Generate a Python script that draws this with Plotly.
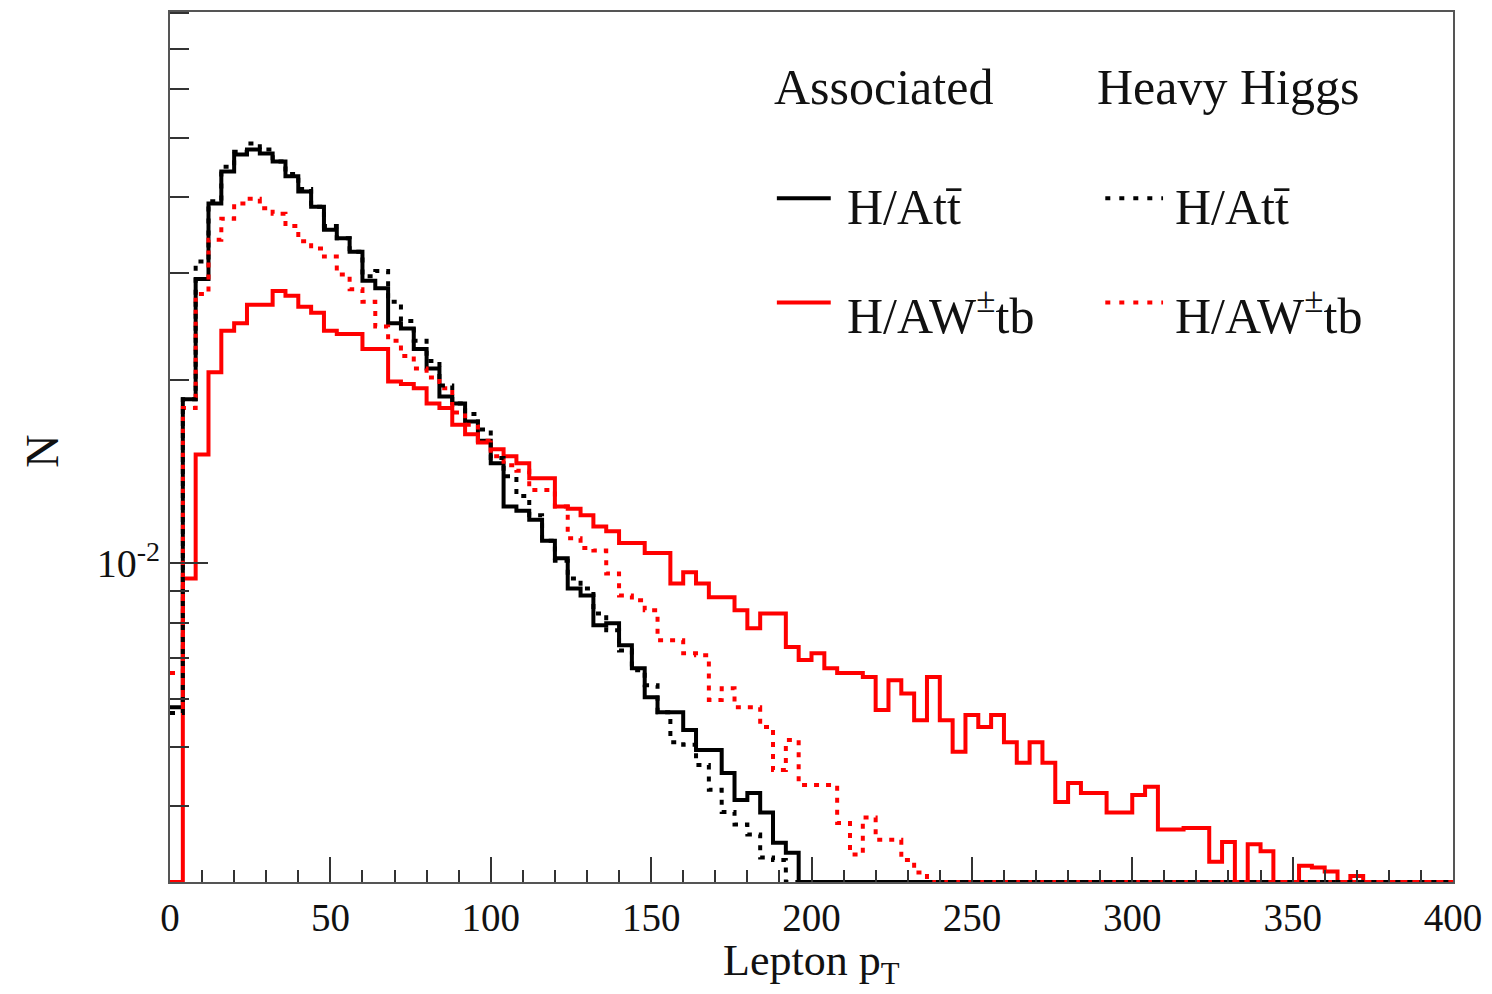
import numpy as np
import plotly.graph_objects as go

# ---------------- data (normalised histogram contents, 4 GeV bins, 0-400) -----------
bin_edges = list(range(0, 404, 4))

assoc_htt = [
    0.00581, 0.0186, 0.0293, 0.0390, 0.0440, 0.0469, 0.0478, 0.0471, 0.0457, 0.0432,
    0.0408, 0.0385, 0.0353, 0.0342, 0.0325, 0.0291, 0.0283, 0.0248, 0.0243, 0.0225,
    0.0209, 0.0188, 0.0183, 0.0171, 0.0159, 0.0146, 0.0124, 0.0122, 0.0118, 0.0109,
    0.0102, 0.00910, 0.00886, 0.00792, 0.00798, 0.00734, 0.00673, 0.00603, 0.00570, 0.00570,
    0.00533, 0.00494, 0.00494, 0.00453, 0.00409, 0.00420, 0.00390, 0.00348, 0.00335, 0,
    0, 0, 0, 0, 0, 0, 0, 0, 0, 0,
    0, 0, 0, 0, 0, 0, 0, 0, 0, 0,
    0, 0, 0, 0, 0, 0, 0, 0, 0, 0,
    0, 0, 0, 0, 0, 0, 0, 0, 0, 0,
    0, 0, 0, 0, 0, 0, 0, 0, 0, 0,
]

heavy_htt = [
    0.00568, 0.0186, 0.0313, 0.0393, 0.0448, 0.0474, 0.0489, 0.0478, 0.0457, 0.0436,
    0.0412, 0.0385, 0.0358, 0.0342, 0.0325, 0.0296, 0.0302, 0.0269, 0.0250, 0.0232,
    0.0215, 0.0196, 0.0183, 0.0176, 0.0166, 0.0149, 0.0139, 0.0129, 0.0120, 0.0109,
    0.0101, 0.00945, 0.00910, 0.00828, 0.00777, 0.00720, 0.00668, 0.00631, 0.00570, 0.00509,
    0.00504, 0.00467, 0.00425, 0.00391, 0.00373, 0.00359, 0.00329, 0.00326, 0, 0,
    0, 0, 0, 0, 0, 0, 0, 0, 0, 0,
    0, 0, 0, 0, 0, 0, 0, 0, 0, 0,
    0, 0, 0, 0, 0, 0, 0, 0, 0, 0,
    0, 0, 0, 0, 0, 0, 0, 0, 0, 0,
    0, 0, 0, 0, 0, 0, 0, 0, 0, 0,
]

assoc_hwtb = [
    0, 0.00945, 0.0151, 0.0206, 0.0241, 0.0248, 0.0266, 0.0266, 0.0280, 0.0275,
    0.0264, 0.0258, 0.0241, 0.0238, 0.0238, 0.0225, 0.0225, 0.0199, 0.0197, 0.0194,
    0.0183, 0.0180, 0.0169, 0.0163, 0.0158, 0.0154, 0.0150, 0.0146, 0.0138, 0.0138,
    0.0124, 0.0123, 0.0120, 0.0115, 0.0113, 0.0108, 0.0108, 0.0104, 0.0104, 0.00927,
    0.00967, 0.00927, 0.00880, 0.00880, 0.00838, 0.00783, 0.00828, 0.00828, 0.00729, 0.00694,
    0.00712, 0.00673, 0.00661, 0.00661, 0.00651, 0.00575, 0.00643, 0.00612, 0.00553, 0.00651,
    0.00553, 0.00491, 0.00564, 0.00539, 0.00564, 0.00509, 0.00471, 0.00509, 0.00471, 0.00406,
    0.00436, 0.00420, 0.00420, 0.00390, 0.00390, 0.00417, 0.00430, 0.00366, 0.00366, 0.00368,
    0.00368, 0.00324, 0.00349, 0, 0.00346, 0.00337, 0, 0, 0.00319, 0.00317,
    0.00312, 0, 0.00307, 0, 0, 0, 0, 0, 0, 0,
]

heavy_hwtb = [
    0.00661, 0.0180, 0.0277, 0.0340, 0.0368, 0.0390, 0.0397, 0.0383, 0.0375, 0.0358,
    0.0338, 0.0329, 0.0319, 0.0298, 0.0282, 0.0269, 0.0245, 0.0232, 0.0219, 0.0209,
    0.0202, 0.0194, 0.0177, 0.0169, 0.0159, 0.0150, 0.0145, 0.0142, 0.0132, 0.0132,
    0.0124, 0.0110, 0.0106, 0.0105, 0.00963, 0.00886, 0.00870, 0.00838, 0.00748, 0.00748,
    0.00712, 0.00707, 0.00597, 0.00624, 0.00581, 0.00581, 0.00539, 0.00458, 0.00513, 0.00433,
    0.00433, 0.00433, 0.00375, 0.00333, 0.00383, 0.00352, 0.00352, 0.00326, 0.00311, 0,
    0, 0, 0, 0, 0, 0, 0, 0, 0, 0,
    0, 0, 0, 0, 0, 0, 0, 0, 0, 0,
    0, 0, 0, 0, 0, 0, 0, 0, 0, 0,
    0, 0, 0, 0, 0, 0, 0, 0, 0, 0,
]

x_tick_vals = [0, 50, 100, 150, 200, 250, 300, 350, 400]
x_tick_text = ["0", "50", "100", "150", "200", "250", "300", "350", "400"]
y_major_vals = [0.01]
y_major_text = ["10<sup>-2</sup>"]
y_minor_vals = [0.003, 0.004, 0.005, 0.006, 0.007, 0.008, 0.009,
                0.02, 0.03, 0.04, 0.05, 0.06, 0.07, 0.08]

YMIN, YMAX = 0.003, 0.0804
FONT = "Liberation Serif, Times New Roman, serif"
DOT = "5px,7px"


def step_y(vals):
    # ROOT draws empty / below-minimum bins on the lower frame edge
    arr = np.array(list(vals) + [vals[-1]], dtype=float)
    return np.maximum(arr, YMIN)


series = [
    ("Associated H/Att\u0304", assoc_htt, "#000000", "solid"),
    ("Associated H/AW\u00b1tb", assoc_hwtb, "#ff0000", "solid"),
    ("Heavy Higgs H/AW\u00b1tb", heavy_hwtb, "#ff0000", DOT),
    ("Heavy Higgs H/Att\u0304", heavy_htt, "#000000", DOT),
]

fig = go.Figure()
for name, vals, color, dash in series:
    fig.add_trace(go.Scatter(
        x=bin_edges, y=step_y(vals), mode="lines", name=name,
        line=dict(shape="hv", color=color, width=4, dash=dash),
        showlegend=False, hoverinfo="skip",
    ))

axis_line = "#555555"
fig.update_xaxes(
    range=[0, 400], showgrid=False, zeroline=False,
    showline=True, mirror=True, linecolor=axis_line, linewidth=2,
    tickmode="array", tickvals=x_tick_vals, ticktext=x_tick_text,
    ticks="inside", ticklen=25, tickwidth=2, tickcolor="#333333",
    minor=dict(dtick=10, tick0=0, ticks="inside", ticklen=12, tickwidth=2, tickcolor="#333333"),
    tickfont=dict(family=FONT, size=39, color="#111111"),
)
fig.update_yaxes(
    type="log", range=[np.log10(YMIN), np.log10(YMAX)], showgrid=False, zeroline=False,
    showline=True, mirror=True, linecolor=axis_line, linewidth=2,
    tickmode="array", tickvals=y_major_vals, ticktext=y_major_text,
    ticks="inside", ticklen=38, tickwidth=2, tickcolor="#333333",
    minor=dict(tickmode="array", tickvals=y_minor_vals, ticks="inside", ticklen=19,
               tickwidth=2, tickcolor="#333333"),
    tickfont=dict(family=FONT, size=40, color="#111111"),
)

annotations = [
    dict(text="Lepton p<sub>T</sub>", x=0.5, y=-0.094, xref="paper", yref="paper",
         xanchor="center", yanchor="middle", showarrow=False,
         font=dict(family=FONT, size=44, color="#111111")),
    dict(text="N", x=-0.0995, y=0.495, xref="paper", yref="paper", textangle=-90,
         xanchor="center", yanchor="middle", showarrow=False,
         font=dict(family=FONT, size=46, color="#111111")),
    dict(text="Associated", x=0.469, y=0.914, xref="paper", yref="paper",
         xanchor="left", yanchor="middle", showarrow=False,
         font=dict(family=FONT, size=50, color="#111111")),
    dict(text="Heavy Higgs", x=0.721, y=0.914, xref="paper", yref="paper",
         xanchor="left", yanchor="middle", showarrow=False,
         font=dict(family=FONT, size=50, color="#111111")),
    dict(text="H/Att\u0304", x=0.526, y=0.776, xref="paper", yref="paper",
         xanchor="left", yanchor="middle", showarrow=False,
         font=dict(family=FONT, size=50, color="#111111")),
    dict(text="H/AW<sup>\u00b1</sup>tb", x=0.526, y=0.655, xref="paper", yref="paper",
         xanchor="left", yanchor="middle", showarrow=False,
         font=dict(family=FONT, size=50, color="#111111")),
    dict(text="H/Att\u0304", x=0.782, y=0.776, xref="paper", yref="paper",
         xanchor="left", yanchor="middle", showarrow=False,
         font=dict(family=FONT, size=50, color="#111111")),
    dict(text="H/AW<sup>\u00b1</sup>tb", x=0.782, y=0.655, xref="paper", yref="paper",
         xanchor="left", yanchor="middle", showarrow=False,
         font=dict(family=FONT, size=50, color="#111111")),
]

legend_lines = [
    (0.473, 0.515, 0.786, "#000000", "solid"),
    (0.473, 0.515, 0.666, "#ff0000", "solid"),
    (0.729, 0.774, 0.786, "#000000", "5px,9px"),
    (0.729, 0.774, 0.666, "#ff0000", "5px,9px"),
]
shapes = [
    dict(type="line", xref="paper", yref="paper", x0=a, x1=b, y0=yy, y1=yy,
         line=dict(color=c, width=4, dash=d))
    for a, b, yy, c, d in legend_lines
]

fig.update_layout(
    width=1492, height=994,
    margin=dict(l=170, r=35, t=10, b=112),
    plot_bgcolor="white", paper_bgcolor="white",
    annotations=annotations, shapes=shapes,
    showlegend=False,
)

fig.write_html("out.html")
